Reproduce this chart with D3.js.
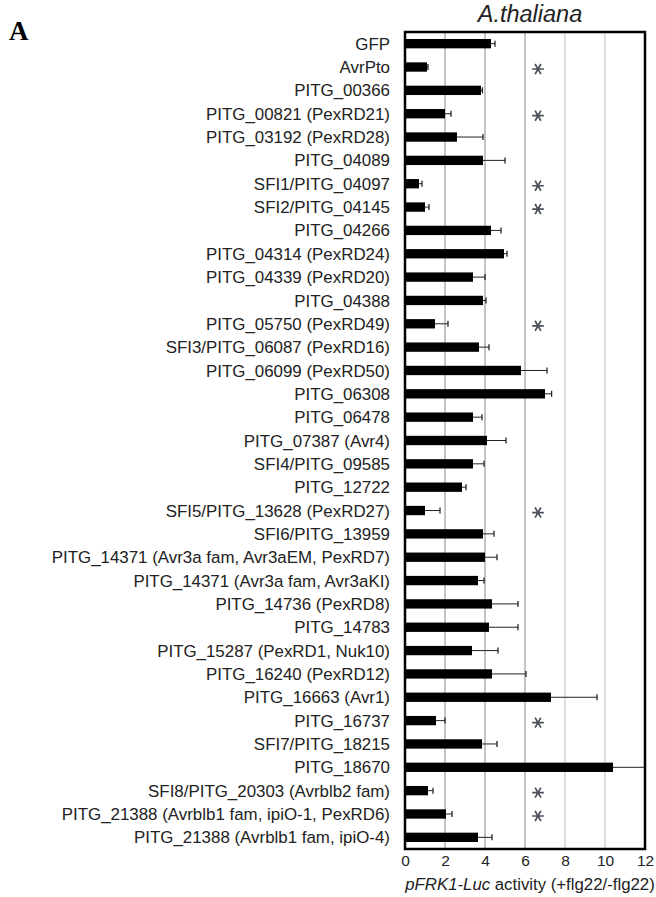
<!DOCTYPE html>
<html lang="en">
<head>
<meta charset="UTF-8">
<title>A.thaliana pFRK1-Luc</title>
<script src="https://d3js.org/d3.v7.min.js"></script>
<style>
  body { margin: 0; background: #fff; }
  text { font-family: "Liberation Sans", Arial, sans-serif; }
</style>
</head>
<body>
<svg id="chart"></svg>
<script>
const width = 656, height = 897;

// effector names, top to bottom
const effectors = [
  "GFP", "AvrPto", "PITG_00366", "PITG_00821 (PexRD21)", "PITG_03192 (PexRD28)",
  "PITG_04089", "SFI1/PITG_04097", "SFI2/PITG_04145", "PITG_04266",
  "PITG_04314 (PexRD24)", "PITG_04339 (PexRD20)", "PITG_04388",
  "PITG_05750 (PexRD49)", "SFI3/PITG_06087 (PexRD16)", "PITG_06099 (PexRD50)",
  "PITG_06308", "PITG_06478", "PITG_07387 (Avr4)", "SFI4/PITG_09585",
  "PITG_12722", "SFI5/PITG_13628 (PexRD27)", "SFI6/PITG_13959",
  "PITG_14371 (Avr3a fam, Avr3aEM, PexRD7)", "PITG_14371 (Avr3a fam, Avr3aKI)",
  "PITG_14736 (PexRD8)", "PITG_14783", "PITG_15287 (PexRD1, Nuk10)",
  "PITG_16240 (PexRD12)", "PITG_16663 (Avr1)", "PITG_16737", "SFI7/PITG_18215",
  "PITG_18670", "SFI8/PITG_20303 (Avrblb2 fam)",
  "PITG_21388 (Avrblb1 fam, ipiO-1, PexRD6)", "PITG_21388 (Avrblb1 fam, ipiO-4)"
];

// mean pFRK1-Luc ratio
const activity = [
  4.3, 1.1, 3.8, 2.0, 2.6, 3.9, 0.7, 1.0, 4.3, 4.95, 3.4, 3.9, 1.5, 3.7, 5.8,
  7.0, 3.4, 4.1, 3.4, 2.85, 1.0, 3.9, 4.0, 3.65, 4.35, 4.2, 3.35, 4.35, 7.3,
  1.55, 3.85, 10.4, 1.15, 2.05, 3.65
];

// error (upper side only)
const errors = [
  0.2, 0.05, 0.07, 0.3, 1.3, 1.1, 0.15, 0.2, 0.5, 0.15, 0.6, 0.15, 0.65, 0.5,
  1.3, 0.33, 0.45, 0.95, 0.55, 0.2, 0.75, 0.55, 0.6, 0.3, 1.3, 1.45, 1.3, 1.7,
  2.3, 0.45, 0.75, 1.6, 0.25, 0.3, 0.7
];

// effectors marked significant
const significant = [
  "AvrPto", "PITG_00821 (PexRD21)", "SFI1/PITG_04097", "SFI2/PITG_04145",
  "PITG_05750 (PexRD49)", "SFI5/PITG_13628 (PexRD27)", "PITG_16737",
  "SFI8/PITG_20303 (Avrblb2 fam)", "PITG_21388 (Avrblb1 fam, ipiO-1, PexRD6)"
];
const starValue = 6.65;

const xTicks = [0, 2, 4, 6, 8, 10, 12];

const data = effectors.map((name, i) => ({ name, value: activity[i], err: errors[i] }));

const margin = { top: 32, right: 11, bottom: 48, left: 405 };
const innerW = width - margin.left - margin.right;
const innerH = height - margin.top - margin.bottom;

const x = d3.scaleLinear().domain([0, 12]).range([0, innerW]);
const y = d3.scaleBand().domain(effectors).range([0, innerH]).paddingInner(0.6).paddingOuter(0.3);

const svg = d3.select("#chart").attr("width", width).attr("height", height);

// panel letter
svg.append("text")
  .attr("x", 9).attr("y", 40)
  .style("font-family", "'Liberation Serif', 'Times New Roman', serif")
  .style("font-weight", "bold").style("font-size", "27px")
  .text("A");

// title
svg.append("text")
  .attr("x", margin.left + innerW / 2 + 5).attr("y", 22)
  .attr("text-anchor", "middle")
  .style("font-style", "italic").style("font-size", "23.5px").attr("fill", "#222")
  .text("A.thaliana");

const g = svg.append("g").attr("transform", `translate(${margin.left},${margin.top})`);

// grid lines
g.selectAll("line.grid")
  .data(xTicks.filter(d => d > 0 && d < 12))
  .join("line")
  .attr("class", "grid")
  .attr("x1", d => x(d)).attr("x2", d => x(d))
  .attr("y1", 0).attr("y2", innerH)
  .attr("stroke", d => d <= 6 ? "#8a8a8a" : "#bdbdbd")
  .attr("stroke-width", 1);

// bars
g.selectAll("rect.bar")
  .data(data)
  .join("rect")
  .attr("class", "bar")
  .attr("x", 0)
  .attr("y", d => y(d.name))
  .attr("width", d => x(d.value))
  .attr("height", y.bandwidth())
  .attr("fill", "#000");

// error bars
const eb = g.selectAll("g.err").data(data).join("g").attr("class", "err");
eb.append("line")
  .attr("x1", d => x(d.value)).attr("x2", d => x(d.value + d.err))
  .attr("y1", d => y(d.name) + y.bandwidth() / 2)
  .attr("y2", d => y(d.name) + y.bandwidth() / 2)
  .attr("stroke", "#222").attr("stroke-width", 1);
eb.append("line")
  .attr("x1", d => x(d.value + d.err)).attr("x2", d => x(d.value + d.err))
  .attr("y1", d => y(d.name) + y.bandwidth() / 2 - 3)
  .attr("y2", d => y(d.name) + y.bandwidth() / 2 + 3)
  .attr("stroke", "#222").attr("stroke-width", 1.3);

// asterisks (significance marks)
const star = d3.symbol(d3.symbolAsterisk, 95);
g.selectAll("path.star")
  .data(data.filter(d => significant.includes(d.name)))
  .join("path")
  .attr("class", "star")
  .attr("d", star)
  .attr("transform", d => `translate(${x(starValue)},${y(d.name) + y.bandwidth() / 2 + 2}) rotate(90)`)
  .attr("fill", "none")
  .attr("stroke", "#4a4f5a")
  .attr("stroke-width", 1.7);

// category labels
g.selectAll("text.label")
  .data(effectors)
  .join("text")
  .attr("class", "label")
  .attr("x", -15)
  .attr("y", d => y(d) + y.bandwidth() / 2)
  .attr("dy", "0.36em")
  .attr("text-anchor", "end")
  .style("font-size", "16.9px").attr("fill", "#222")
  .text(d => d);

// frame
g.append("rect")
  .attr("x", 0).attr("y", 0).attr("width", innerW).attr("height", innerH)
  .attr("fill", "none").attr("stroke", "#000").attr("stroke-width", 2.5);

// x axis
const xAxis = g.append("g")
  .attr("transform", `translate(0,${innerH})`)
  .call(d3.axisBottom(x).tickValues(xTicks).tickSize(0).tickPadding(6));
xAxis.select(".domain").remove();
xAxis.selectAll("text").style("font-size", "15.5px").attr("fill", "#222")
  .style("font-family", "'Liberation Sans', Arial, sans-serif");

// axis title
const xt = svg.append("text")
  .attr("x", margin.left + innerW / 2 + 5).attr("y", 890)
  .attr("text-anchor", "middle")
  .style("font-size", "16.8px").attr("fill", "#222");
xt.append("tspan").style("font-style", "italic").text("pFRK1-Luc");
xt.append("tspan").text(" activity (+flg22/-flg22)");
</script>
</body>
</html>
